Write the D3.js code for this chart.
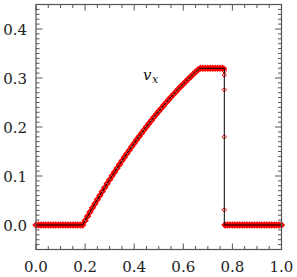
<!DOCTYPE html>
<html>
<head>
<meta charset="utf-8">
<script src="https://cdn.jsdelivr.net/npm/d3@7"></script>
<style>
  body { margin: 0; background: #fff; }
</style>
</head>
<body>
<div id="chart"></div>
<script>
// numerical solution, sampled every 0.01 in x (x = 0.00 ... 1.00)
const vx = [
  0, 0, 0, 0, 0, 0, 0, 0, 0, 0,
  0, 0, 0, 0, 0, 0, 0, 0, 0, 0,
  0.0089, 0.0177, 0.0264, 0.0350, 0.0435, 0.0519, 0.0602, 0.0685, 0.0766, 0.0846,
  0.0926, 0.1004, 0.1082, 0.1159, 0.1235, 0.1309, 0.1383, 0.1456, 0.1528, 0.1600,
  0.1670, 0.1739, 0.1807, 0.1875, 0.1941, 0.2007, 0.2071, 0.2135, 0.2198, 0.2260,
  0.2320, 0.2380, 0.2439, 0.2498, 0.2555, 0.2611, 0.2666, 0.2721, 0.2774, 0.2826,
  0.2878, 0.2929, 0.2978, 0.3027, 0.3075, 0.3122, 0.3168, 0.3200, 0.3200, 0.3200,
  0.3200, 0.3200, 0.3200, 0.3200, 0.3200, 0.3200, 0.3200, 0, 0, 0,
  0, 0, 0, 0, 0, 0, 0, 0, 0, 0,
  0, 0, 0, 0, 0, 0, 0, 0, 0, 0,
  0
];

// points caught inside the shock
const shockX = 0.767;
const shockV = [0.320, 0.318, 0.314, 0.306, 0.276, 0.180, 0.031, 0];

// exact solution break points
const exactKink = 0.19;
const plateauStart = 0.667;
const plateauV = 0.32;

const xTicks = [0, 0.2, 0.4, 0.6, 0.8, 1.0];
const yTicks = [0, 0.1, 0.2, 0.3, 0.4];

const WIDTH = 297, HEIGHT = 277;
const margin = { top: 4.5, right: 15.5, bottom: 27.5, left: 36 };
const FONT = "DejaVu Serif";

const svg = d3.select("#chart").append("svg")
  .attr("width", WIDTH)
  .attr("height", HEIGHT);

const x = d3.scaleLinear().domain([0, 1]).range([margin.left, WIDTH - margin.right]);
const y = d3.scaleLinear().domain([-0.05, 0.45]).range([HEIGHT - margin.bottom, margin.top]);

const pts = vx.map((v, i) => ({ x: i / 100, v: v }));
const shockPts = shockV.map(v => ({ x: shockX, v: v }));

// exact line: rarefaction follows the samples, the rest is flat
const exact = [{ x: 0, v: 0 }, { x: exactKink, v: 0 }];
pts.filter(d => d.x > exactKink && d.x < plateauStart).forEach(d => exact.push(d));
exact.push({ x: plateauStart, v: plateauV });
exact.push({ x: shockX, v: plateauV });
exact.push({ x: shockX, v: 0 });
exact.push({ x: 1.0, v: 0 });

const frame = "#555";

// minor and major ticks, inside, on all four sides
const g = svg.append("g");
const xMinor = d3.range(0, 1.0001, 0.05);
const yMinor = d3.range(-0.05, 0.4501, 0.01);

function tick(x1, y1, x2, y2) {
  g.append("line")
    .attr("x1", x1).attr("y1", y1).attr("x2", x2).attr("y2", y2)
    .attr("stroke", frame).attr("stroke-width", 1);
}

const yb = y(-0.05), yt = y(0.45), xl = x(0), xr = x(1);

xMinor.forEach(t => {
  const major = xTicks.some(m => Math.abs(m - t) < 1e-6);
  const len = major ? 6 : 3.5;
  tick(x(t), yb, x(t), yb - len);
  tick(x(t), yt, x(t), yt + len);
});
yMinor.forEach(t => {
  const major = yTicks.some(m => Math.abs(m - t) < 1e-6);
  const len = major ? 6.5 : 3.5;
  tick(xl, y(t), xl + len, y(t));
  tick(xr, y(t), xr - len, y(t));
});

// red open diamonds
const diamond = r => `M0,${-r}L${r},0L0,${r}L${-r},0Z`;

svg.append("g")
  .selectAll("path")
  .data(pts)
  .enter()
    .append("path")
    .attr("d", diamond(2.3))
    .attr("transform", d => `translate(${x(d.x)},${y(d.v)})`)
    .attr("fill", "none")
    .attr("stroke", "#ff0000")
    .attr("stroke-width", 2);

svg.append("g")
  .selectAll("path")
  .data(shockPts)
  .enter()
    .append("path")
    .attr("d", diamond(2.2))
    .attr("transform", d => `translate(${x(d.x)},${y(d.v)})`)
    .attr("fill", "none")
    .attr("stroke", "#ff0000")
    .attr("stroke-width", 1);

// exact solution
const line = d3.line().x(d => x(d.x)).y(d => y(d.v));
svg.append("path")
  .datum(exact)
  .attr("d", line)
  .attr("fill", "none")
  .attr("stroke", "#000")
  .attr("stroke-width", 1);

// frame
svg.append("rect")
  .attr("x", xl).attr("y", yt)
  .attr("width", xr - xl).attr("height", yb - yt)
  .attr("fill", "none")
  .attr("stroke", frame)
  .attr("stroke-width", 1.2);

// tick labels
svg.append("g")
  .selectAll("text")
  .data(xTicks)
  .enter()
    .append("text")
    .attr("x", d => x(d))
    .attr("y", 272)
    .attr("text-anchor", "middle")
    .attr("font-family", FONT)
    .attr("font-size", 15)
    .attr("fill", "#222")
    .text(d => d.toFixed(1));

svg.append("g")
  .selectAll("text")
  .data(yTicks)
  .enter()
    .append("text")
    .attr("x", 27)
    .attr("y", d => y(d) + 5.5)
    .attr("text-anchor", "end")
    .attr("font-family", FONT)
    .attr("font-size", 15)
    .attr("fill", "#222")
    .text(d => d.toFixed(1));

// label
const lab = svg.append("text")
  .attr("x", 143)
  .attr("y", 79.5)
  .attr("font-family", FONT)
  .attr("font-style", "italic")
  .attr("font-size", 15)
  .attr("fill", "#111");
lab.append("tspan").text("v");
lab.append("tspan").attr("font-size", 11).attr("dy", 3.5).attr("dx", 0.5).text("x");
</script>
</body>
</html>
